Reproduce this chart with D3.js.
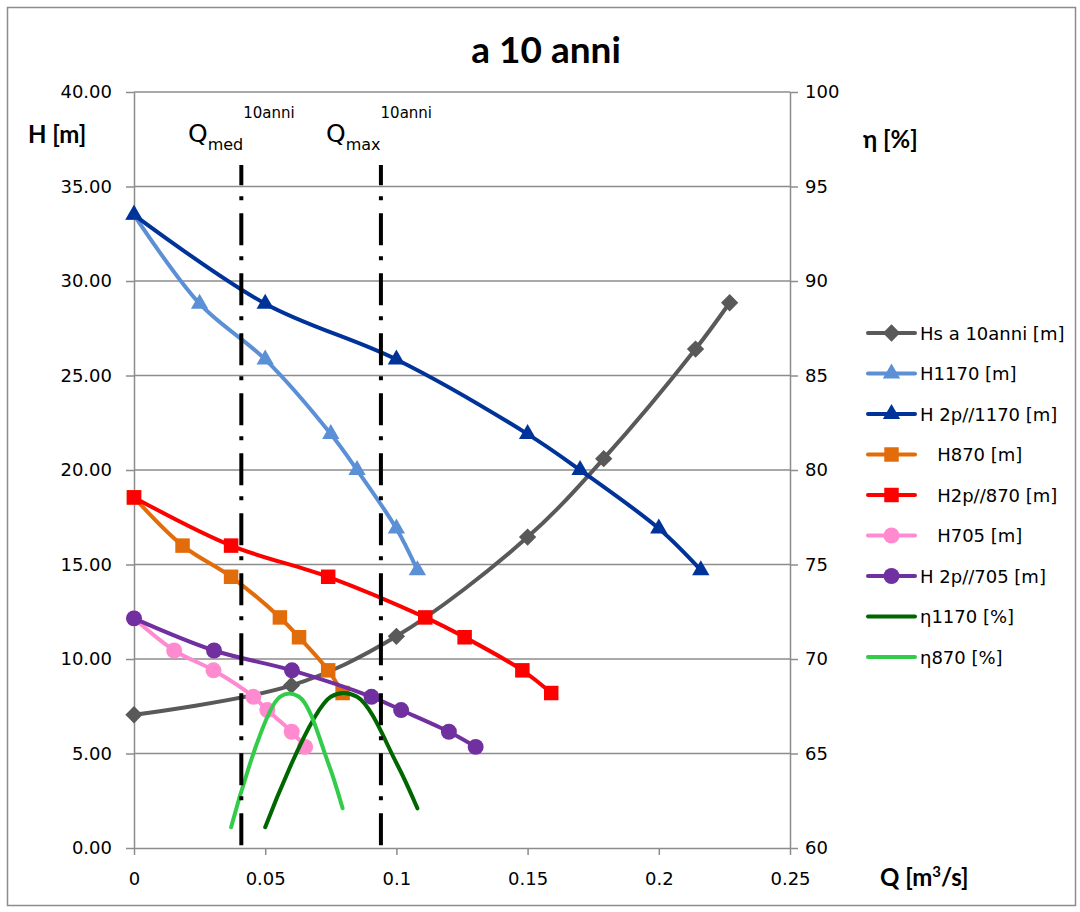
<!DOCTYPE html>
<html>
<head>
<meta charset="utf-8">
<script src="https://cdn.jsdelivr.net/npm/d3@7"></script>
<style>
body{margin:0;background:#fff;}
svg{display:block;}
text{font-family:"DejaVu Sans",sans-serif;fill:#000;}
.cal{font-family:Lato,"DejaVu Sans",sans-serif;}
</style>
</head>
<body>
<svg id="chart" width="1080" height="912"></svg>
<script>
// portate [m3/s] e prevalenze [m]
const qHs     = [0, 0.060, 0.100, 0.150, 0.179, 0.214, 0.227];
const hHs     = [7.05, 8.6, 11.2, 16.45, 20.6, 26.4, 28.85];

const q1170   = [0, 0.025, 0.050, 0.075, 0.085, 0.100, 0.108];
const h1170   = [33.5, 28.8, 25.85, 21.9, 20.0, 16.9, 14.7];
const q2p1170 = [0, 0.050, 0.100, 0.150, 0.170, 0.200, 0.216];
const h2p1170 = [33.5, 28.8, 25.85, 21.9, 20.0, 16.9, 14.7];

const q870    = [0, 0.0185, 0.037, 0.0556, 0.0629, 0.074, 0.0795];
const h870    = [18.55, 16.0, 14.35, 12.2, 11.15, 9.4, 8.2];
const q2p870  = [0, 0.037, 0.074, 0.111, 0.126, 0.148, 0.159];
const h2p870  = [18.55, 16.0, 14.35, 12.2, 11.15, 9.4, 8.2];

const q705    = [0, 0.0153, 0.0303, 0.0455, 0.0508, 0.0601, 0.0652];
const h705    = [12.15, 10.45, 9.4, 8.0, 7.3, 6.15, 5.35];
const q2p705  = [0, 0.0305, 0.0602, 0.0905, 0.1018, 0.1200, 0.1302];
const h2p705  = [12.15, 10.45, 9.4, 8.0, 7.3, 6.15, 5.35];

// rendimenti [%]
const qEta1170 = [0.050, 0.075, 0.085, 0.100, 0.108];
const eta1170  = [61.1, 68.0, 68.0, 64.5, 62.1];
const qEta870  = [0.037, 0.0556, 0.0629, 0.074, 0.0795];
const eta870   = [61.1, 68.0, 68.0, 64.5, 62.1];

// portate di riferimento
const qMed = 0.0409;
const qMax = 0.0941;

const hTicks   = [0, 5, 10, 15, 20, 25, 30, 35, 40];
const etaTicks = [60, 65, 70, 75, 80, 85, 90, 95, 100];
const qTicks   = [0, 0.05, 0.1, 0.15, 0.2, 0.25];

const series = [
  {name:"Hs a 10anni [m]",   q:qHs,     v:hHs,     axis:"L", color:"#595959", mark:"diamond"},
  {name:"H1170 [m]",         q:q1170,   v:h1170,   axis:"L", color:"#5b8fd6", mark:"triangle"},
  {name:"H 2p//1170 [m]",    q:q2p1170, v:h2p1170, axis:"L", color:"#003399", mark:"triangle"},
  {name:"   H870 [m]",       q:q870,    v:h870,    axis:"L", color:"#e36c0a", mark:"square"},
  {name:"   H2p//870 [m]",   q:q2p870,  v:h2p870,  axis:"L", color:"#ff0000", mark:"square"},
  {name:"   H705 [m]",       q:q705,    v:h705,    axis:"L", color:"#ff8ad0", mark:"circle"},
  {name:"H 2p//705 [m]",     q:q2p705,  v:h2p705,  axis:"L", color:"#7030a0", mark:"circle"},
  {name:"η1170 [%]",         q:qEta1170,v:eta1170, axis:"R", color:"#006600", mark:null},
  {name:"η870 [%]",          q:qEta870, v:eta870,  axis:"R", color:"#33cc4a", mark:null}
];

const svg = d3.select("#chart");
const m = {left:134, right:790, top:92, bottom:848};
const x  = d3.scaleLinear().domain([0, 0.25]).range([m.left, m.right]);
const yL = d3.scaleLinear().domain([0, 40]).range([m.bottom, m.top]);
const yR = d3.scaleLinear().domain([60, 100]).range([m.bottom, m.top]);
const grey = "#8c8c8c";

svg.append("rect").attr("x", 7.5).attr("y", 7.5).attr("width", 1068).attr("height", 898)
  .attr("fill", "#fff").attr("stroke", grey).attr("stroke-width", 1.5);

// griglia
svg.append("g").selectAll("line").data(hTicks.slice(1)).enter().append("line")
  .attr("x1", m.left).attr("x2", m.right)
  .attr("y1", d => yL(d)).attr("y2", d => yL(d))
  .attr("stroke", grey).attr("stroke-width", 1.5);

function styleAxis(g){
  g.select(".domain").attr("stroke", grey).attr("stroke-width", 1.5);
  g.selectAll(".tick line").attr("stroke", grey).attr("stroke-width", 1.5);
  g.selectAll(".tick text").attr("font-size", 18).attr("font-family", "DejaVu Sans").attr("fill", "#000");
}

svg.append("g").attr("transform", `translate(${m.left},0)`)
  .call(d3.axisLeft(yL).tickValues(hTicks).tickFormat(d => d.toFixed(2)).tickSize(8).tickSizeOuter(0).tickPadding(14))
  .call(styleAxis);
svg.append("g").attr("transform", `translate(${m.right},0)`)
  .call(d3.axisRight(yR).tickValues(etaTicks).tickFormat(d3.format("d")).tickSize(8).tickSizeOuter(0).tickPadding(7))
  .call(styleAxis);
svg.append("g").attr("transform", `translate(0,${m.bottom})`)
  .call(d3.axisBottom(x).tickValues(qTicks).tickFormat(d => String(+d.toFixed(2))).tickSize(7).tickSizeOuter(0).tickPadding(17))
  .call(styleAxis);

// curve
const symbolOf = {
  diamond:  d3.symbol().type(d3.symbolSquare).size(150),
  triangle: d3.symbol().type(d3.symbolTriangle).size(130),
  square:   d3.symbol().type(d3.symbolSquare).size(210),
  circle:   d3.symbol().type(d3.symbolCircle).size(200)
};

series.forEach(s => {
  const y = s.axis === "L" ? yL : yR;
  const pts = s.q.map((q, i) => [x(q), y(s.v[i])]);
  const g = svg.append("g");
  g.append("path").datum(pts)
    .attr("d", d3.line().curve(d3.curveCatmullRom.alpha(0.5)))
    .attr("fill", "none").attr("stroke", s.color).attr("stroke-width", 4)
    .attr("stroke-linecap", "round").attr("stroke-linejoin", "round");
  if (s.mark) {
    g.selectAll("path.mk").data(pts).enter().append("path").attr("class", "mk")
      .attr("d", symbolOf[s.mark]())
      .attr("transform", d => `translate(${d[0]},${d[1]})` + (s.mark === "diamond" ? " rotate(45)" : ""))
      .attr("fill", s.color);
  }
});

// portate di riferimento
[qMed, qMax].forEach(q => {
  svg.append("line").attr("x1", x(q)).attr("x2", x(q)).attr("y1", 165).attr("y2", m.bottom)
    .attr("stroke", "#000").attr("stroke-width", 4)
    .attr("stroke-dasharray", "32,11,4,13").attr("stroke-dashoffset", 11.7);
});

function qLabel(xq, sub){
  const t = svg.append("text").attr("x", xq).attr("y", 142);
  t.append("tspan").attr("font-size", 25).text("Q");
  t.append("tspan").attr("font-size", 16).attr("dy", 8).text(sub);
  t.append("tspan").attr("font-size", 15).attr("dy", -32).text("10anni");
}
qLabel(188, "med");
qLabel(326, "max");

// titoli
svg.append("text").attr("class", "cal").attr("x", 546).attr("y", 63).attr("text-anchor", "middle")
  .attr("font-size", 37).attr("font-weight", "bold").text("a 10 anni");
svg.append("text").attr("class", "cal").attr("x", 28).attr("y", 143)
  .attr("font-size", 24).attr("font-weight", "bold").text("H [m]");
svg.append("text").attr("class", "cal").attr("x", 863).attr("y", 148)
  .attr("font-size", 24).attr("font-weight", "bold").text("η [%]");
const qt = svg.append("text").attr("class", "cal").attr("x", 880).attr("y", 886)
  .attr("font-size", 24).attr("font-weight", "bold");
qt.append("tspan").text("Q [m");
qt.append("tspan").attr("font-size", 15).attr("dy", -9).text("3");
qt.append("tspan").attr("dy", 9).text("/s]");

// legenda
const leg = svg.append("g").selectAll("g").data(series).enter().append("g")
  .attr("transform", (d, i) => `translate(868,${333 + i * 40.5})`);
leg.append("line").attr("x1", 0).attr("x2", 47)
  .attr("stroke", d => d.color).attr("stroke-width", 4).attr("stroke-linecap", "round");
leg.filter(d => d.mark).append("path")
  .attr("d", d => symbolOf[d.mark]())
  .attr("transform", d => "translate(23.5,0)" + (d.mark === "diamond" ? " rotate(45)" : ""))
  .attr("fill", d => d.color);
leg.append("text").attr("x", 52).attr("y", 6.5).attr("font-size", 18)
  .style("white-space", "pre").text(d => d.name);
</script>
</body>
</html>
